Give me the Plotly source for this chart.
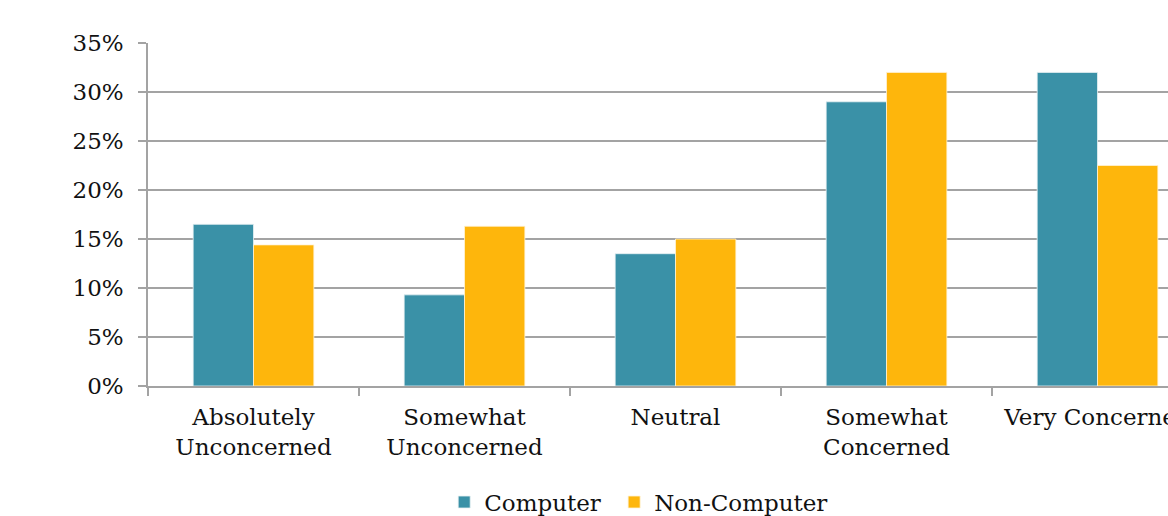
import plotly.graph_objects as go

# Share of respondents by level of concern, split by group
categories = ["Absolutely<br>Unconcerned", "Somewhat<br>Unconcerned", "Neutral",
              "Somewhat<br>Concerned", "Very Concerned"]
computer = [16.5, 9.3, 13.5, 29.0, 32.0]
non_computer = [14.4, 16.3, 15.0, 32.0, 22.5]
y_ticks = [0, 5, 10, 15, 20, 25, 30, 35]
y_tick_labels = [f"{v}%" for v in y_ticks]

TEAL = "#3a91a7"
GOLD = "#feb60c"
GRID = "#a3a3a3"
FONT = "Georgia, 'DejaVu Serif', serif"

fig = go.Figure()
fig.add_trace(go.Bar(name="Computer", x=categories, y=computer, legend="legend",
                     marker=dict(color=TEAL, line=dict(color="#e8f1f4", width=0.8))))
fig.add_trace(go.Bar(name="Non-Computer", x=categories, y=non_computer, legend="legend2",
                     marker=dict(color=GOLD, line=dict(color="#fff3d6", width=0.8))))

# One legend box per series so the two entries sit at fixed positions
legend_common = dict(orientation="h", xref="container", xanchor="left",
                     yref="container", y=0.027, yanchor="middle",
                     font=dict(size=23), itemwidth=30)

fig.update_layout(
    width=1168, height=516,
    margin=dict(l=148, r=0, t=43, b=130),
    paper_bgcolor="white", plot_bgcolor="white",
    barmode="group", bargap=0.428, bargroupgap=0,
    font=dict(family=FONT, size=23, color="#111111"),
    showlegend=True,
    legend=dict(x=0.3803, **legend_common),
    legend2=dict(x=0.5258, **legend_common),
)
fig.update_xaxes(
    type="category", range=[-0.5, 4.334], automargin=False,
    showline=True, linecolor=GRID, linewidth=1.5,
    ticks="outside", tickson="boundaries", ticklen=8, tickcolor=GRID, tickwidth=1.5,
    showgrid=False, tickfont=dict(size=23), ticklabelstandoff=10,
)
fig.update_yaxes(
    range=[0, 35], automargin=False,
    tickvals=y_ticks, ticktext=y_tick_labels,
    showline=True, linecolor=GRID, linewidth=1.5,
    ticks="outside", ticklen=8, tickcolor=GRID, tickwidth=1.5,
    showgrid=True, gridcolor=GRID, gridwidth=1.5, zeroline=False,
    tickfont=dict(size=23), ticklabelstandoff=10,
)

fig.write_html("out.html")
